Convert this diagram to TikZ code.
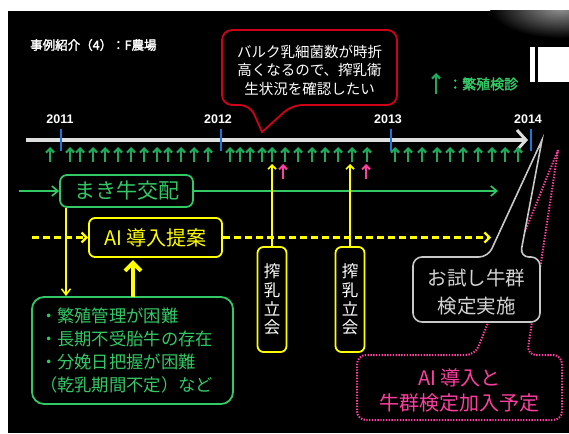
\documentclass[tikz,border=0pt]{standalone}
\usepackage{fontspec}
\setmainfont{Noto Sans CJK JP}
\newfontfamily\jpbold[FakeBold=2.2]{Noto Sans CJK JP}
\newfontfamily\latinsans{Liberation Sans}
\usetikzlibrary{arrows.meta}
\definecolor{grn}{HTML}{1FA95A}
\definecolor{grntxt}{HTML}{33C866}
\definecolor{yel}{HTML}{FFFF00}
\definecolor{pnk}{HTML}{FF3FA0}
\definecolor{blu}{HTML}{1A78D6}
\definecolor{redc}{HTML}{D00018}
\definecolor{gryc}{HTML}{C8C8C8}
\definecolor{barc}{HTML}{DEDEDE}
\tikzset{
  exam/.style={grn, line width=2.2pt, -{Straight Barb[length=4pt,width=8pt]}},
  tickb/.style={blu, line width=1.6pt},
  yearlbl/.style={text=white, font=\latinsans\bfseries\fontsize{12.5}{13}\selectfont, inner sep=0pt},
  gbox/.style={draw=grntxt, line width=1.8pt, rounded corners=7pt, text=grntxt},
  ybox/.style={draw=yel, line width=1.8pt, rounded corners=6pt, text=yel},
  yline/.style={yel, line width=1.5pt},
  ydash/.style={draw=yel, line width=2.2pt, dash pattern=on 7pt off 4pt, -{Straight Barb[length=5pt,width=10pt]}},
  gline/.style={grntxt, line width=1.6pt, -{Straight Barb[length=6pt,width=10pt]}},
  pinkdot/.style={pnk, line width=2pt, dash pattern=on 1.4pt off 1.4pt},
  smallarr/.style={line width=2pt, -{Straight Barb[length=4pt,width=8pt]}},
}
\begin{document}
\begin{tikzpicture}[x=1pt,y=-1pt]
\useasboundingbox (0,0) rectangle (569,433);
\fill[white] (0,0) rectangle (569,433);
\fill[black] (8,11) rectangle (569,433);
\begin{scope}
  \clip (8,11) rectangle (569,433);
  \shade[inner color=gray!85, outer color=black] (560,8) ellipse (70pt and 30pt);
\end{scope}
% white bars top-right
\fill[white] (530,47) rectangle (535,82);
\fill[white] (538,47) rectangle (569,82);

% title
\node[anchor=west, text=white, font=\jpbold\fontsize{12.5}{13}\selectfont, inner sep=0pt] (title) at (30,45) {事例紹介（4）：F農場};

% legend
\coordinate (legA) at (436,94);
\coordinate (legB) at (436,73);
\draw[exam] (legA) -- (legB);
\node[anchor=west, text=grntxt, font=\jpbold\fontsize{14}{15}\selectfont, inner sep=0pt] (legtxt) at (448,84) {：繁殖検診};

% red callout
\draw[redc, line width=1.8pt, fill=black, rounded corners=10pt]
  (262,132) -- (250,105) -- (222,105) -- (222,30) -- (397,30) -- (397,105) -- (292,105) [sharp corners] -- cycle;
\node[text=white, align=center, font=\fontsize{14.5}{18.5}\selectfont, inner sep=0pt] (bulk) at (309.5,70)
  {バルク乳細菌数が時折\\高くなるので、搾乳衛\\生状況を確認したい};

% timeline
\coordinate (tlS) at (26,140);
\coordinate (tlE) at (528,140);
\draw[barc, line width=4pt, -{Straight Barb[length=9pt,width=20pt,line width=3pt]}] (tlS) -- (tlE);

% ticks and years
\foreach \x/\lx/\yr in {61/60/2011, 221/218/2012, 391/388/2013, 531/528/2014}{
  \coordinate (tt\yr) at (\x,129);
  \coordinate (tb\yr) at (\x,151);
  \draw[tickb] (tt\yr) -- (tb\yr);
  \node[yearlbl] (y\yr) at (\lx,119) {\yr};
}

% exam arrows
\foreach \x [count=\i] in {50,70,80,93,105,118,131,144,157,168,181,194,208,230,240,250,262,272,285,298,312,325,338,352,367,395,408,422,437,450,463,478,492,505,518}{
  \coordinate (ea\i) at (\x,162);
  \coordinate (eb\i) at (\x,147);
  \draw[exam] (ea\i) -- (eb\i);
}

% pink arrows
\foreach \x [count=\i] in {283,366}{
  \coordinate (pa\i) at (\x,179);
  \coordinate (pb\i) at (\x,164);
  \draw[pnk, smallarr] (pa\i) -- (pb\i);
}

% makiushi box
\node[gbox, minimum width=133pt, minimum height=32pt, inner sep=0pt, font=\fontsize{21}{22}\selectfont] (maki) at (126.5,191) {まき牛交配};
\coordinate (gS) at (19,191);
\coordinate (gE) at (498,191);
\draw[gline] (gS) -- (maki.west);
\draw[gline] (maki.east) -- (gE);

% AI box
\node[ybox, minimum width=133pt, minimum height=39pt, inner sep=0pt, font=\fontsize{20}{22}\selectfont] (ai) at (155.5,237.5) {AI 導入提案};
\coordinate (dS) at (32,237.5);
\coordinate (dE) at (491,237.5);
\draw[ydash] (dS) -- (ai.west);
\draw[ydash] (ai.east) -- (dE);

% green problem box
\node[gbox, rounded corners=12pt, minimum width=201pt, minimum height=107pt, text width=185pt, inner xsep=8pt, align=left, font=\fontsize{17.3}{23}\selectfont] (prob) at (132.5,350.5)
  {・繁殖管理が困難\\・長期不受胎牛の存在\\・分娩日把握が困難\\（乾乳期間不定）など};

\coordinate (ydown) at (66,296);
\draw[yline, -{Straight Barb[length=6pt,width=9pt]}] (maki.south -| ydown) -- (ydown);
\coordinate (thickS) at (133,297);
\coordinate (thickE) at (133,260);
\draw[yel, line width=4pt, -{Straight Barb[length=8pt,width=16pt]}] (thickS) -- (thickE);

% milking boxes
\node[ybox, minimum width=29pt, minimum height=105pt, inner sep=0pt, text=white, align=center, font=\fontsize{16.5}{18.5}\selectfont] (milk1) at (272,299.5) {搾\\乳\\立\\会};
\node[ybox, minimum width=29pt, minimum height=105pt, inner sep=0pt, text=white, align=center, font=\fontsize{16.5}{18.5}\selectfont] (milk2) at (350,299.5) {搾\\乳\\立\\会};
\coordinate (m1t) at (272,164);
\coordinate (m2t) at (350,164);
\draw[yline, smallarr, line width=1.6pt] (milk1.north) -- (m1t);
\draw[yline, smallarr, line width=1.6pt] (milk2.north) -- (m2t);

% pink callout
\coordinate (pinkTip) at (558,150);
\draw[pinkdot, fill=black, rounded corners=9pt]
  (pinkTip) -- (475,355) -- (357,355) -- (357,420) -- (562,420) -- (562,355) -- (527,355) [sharp corners] -- cycle;
\node[text=pnk, align=center, font=\fontsize{20}{25}\selectfont, inner sep=0pt] (plan) at (459.5,390) {AI 導入と\\牛群検定加入予定};

% gray callout
\coordinate (grayTip) at (542,140);
\draw[gryc, line width=1.6pt, fill=black, rounded corners=9pt]
  (grayTip) -- (488,257) -- (413,257) -- (413,322) -- (540,322) -- (540,257) -- (520,257) [sharp corners] -- cycle;
\node[text=gryc!80!white, align=center, font=\fontsize{19.5}{28}\selectfont, inner sep=0pt] (trial) at (476.5,292) {お試し牛群\\検定実施};
\end{tikzpicture}
\end{document}
